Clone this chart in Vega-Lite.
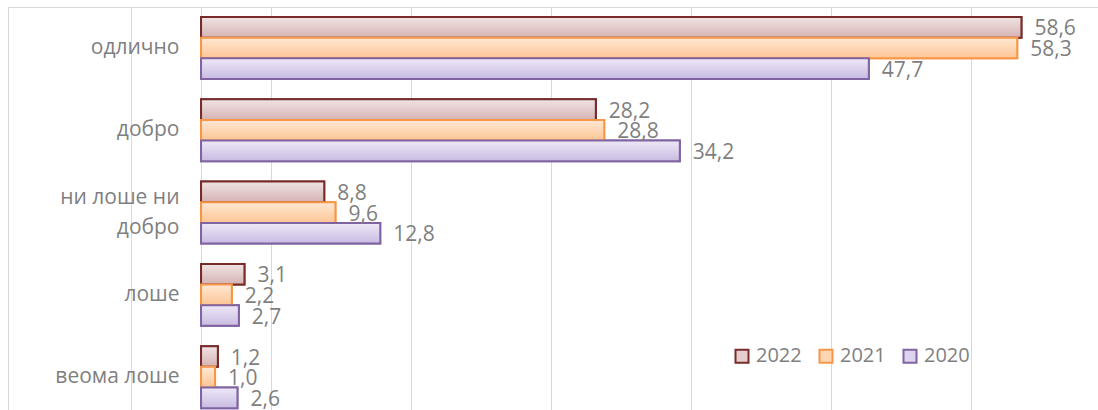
{
  "$schema": "https://vega.github.io/schema/vega-lite/v6.json",
  "autosize": "none",
  "width": 1090,
  "height": 403,
  "padding": {"left": 8, "top": 7, "right": 0, "bottom": 0},
  "background": "white",
  "config": {
    "view": {"stroke": null},
    "font": "Open Sans",
    "locale": {"number": {"decimal": ",", "thousands": ".", "grouping": [3], "currency": ["", ""]}}
  },
  "data": {
    "values": [
      {"category": "одлично", "year": "2022", "value": 58.6},
      {"category": "одлично", "year": "2021", "value": 58.3},
      {"category": "одлично", "year": "2020", "value": 47.7},
      {"category": "добро", "year": "2022", "value": 28.2},
      {"category": "добро", "year": "2021", "value": 28.8},
      {"category": "добро", "year": "2020", "value": 34.2},
      {"category": "ни лоше ни добро", "year": "2022", "value": 8.8},
      {"category": "ни лоше ни добро", "year": "2021", "value": 9.6},
      {"category": "ни лоше ни добро", "year": "2020", "value": 12.8},
      {"category": "лоше", "year": "2022", "value": 3.1},
      {"category": "лоше", "year": "2021", "value": 2.2},
      {"category": "лоше", "year": "2020", "value": 2.7},
      {"category": "веома лоше", "year": "2022", "value": 1.2},
      {"category": "веома лоше", "year": "2021", "value": 1.0},
      {"category": "веома лоше", "year": "2020", "value": 2.6}
    ]
  },
  "encoding": {
    "y": {
      "field": "category",
      "type": "nominal",
      "sort": ["одлично", "добро", "ни лоше ни добро", "лоше", "веома лоше"],
      "scale": {"paddingInner": 0.247, "paddingOuter": 0.072, "align": 0.844},
      "axis": {
        "title": null,
        "ticks": false,
        "domain": true,
        "domainColor": "#d9d9d9",
        "domainWidth": 1,
        "labelPadding": -171,
        "labelAlign": "right",
        "labelFontSize": 21,
        "labelColor": "#7f7f7f",
        "labelFont": "Open Sans",
        "labelLineHeight": 30,
        "labelOverlap": false,
        "labelBound": false,
        "labelOffset": {"condition": {"test": "datum.value == 'ни лоше ни добро'", "value": -15}, "value": 0},
        "labelExpr": "datum.value == 'ни лоше ни добро' ? ['ни лоше ни', 'добро'] : datum.value"
      }
    },
    "yOffset": {
      "field": "year",
      "type": "nominal",
      "sort": ["2022", "2021", "2020"],
      "scale": {"paddingInner": 0, "paddingOuter": 0}
    },
    "x": {
      "field": "value",
      "type": "quantitative",
      "scale": {"domain": [-13.79, 64.07], "nice": false, "zero": false},
      "axis": {
        "orient": "top",
        "title": null,
        "labels": false,
        "ticks": false,
        "domain": true,
        "domainColor": "#d9d9d9",
        "grid": true,
        "gridColor": "#d9d9d9",
        "gridWidth": 1,
        "values": [-5, 0, 5, 15, 25, 35, 45, 55]
      }
    }
  },
  "layer": [
    {
      "mark": {"type": "bar", "strokeWidth": 2},
      "encoding": {
        "x2": {"datum": 0},
        "fill": {
          "field": "year",
          "type": "nominal",
          "scale": {"domain": ["2022", "2021", "2020"], "range": ["#e6cccc", "#fdd7b4", "#ddd3ee"]},
          "legend": {
            "title": null,
            "orient": "none",
            "direction": "horizontal",
            "legendX": 724,
            "legendY": 339,
            "symbolType": "square",
            "symbolSize": 169,
            "symbolStrokeWidth": 2,
            "labelFontSize": 20,
            "labelColor": "#7f7f7f",
            "labelFont": "Open Sans",
            "labelOffset": 4,
            "columnPadding": 13
          }
        },
        "stroke": {
          "field": "year",
          "type": "nominal",
          "scale": {"domain": ["2022", "2021", "2020"], "range": ["#772c2a", "#f79646", "#8064a2"]},
          "legend": {
            "title": null,
            "orient": "none",
            "direction": "horizontal",
            "legendX": 724,
            "legendY": 339,
            "symbolType": "square",
            "symbolSize": 169,
            "symbolStrokeWidth": 2,
            "labelFontSize": 20,
            "labelColor": "#7f7f7f",
            "labelFont": "Open Sans",
            "labelOffset": 4,
            "columnPadding": 13
          }
        }
      }
    },
    {
      "mark": {"type": "bar", "strokeWidth": 2},
      "encoding": {
        "x2": {"datum": 0},
        "fill": {
          "condition": [
            {"test": "datum.year == '2022'", "value": {"gradient": "linear", "x1": 0, "y1": 0, "x2": 0, "y2": 1, "stops": [{"offset": 0, "color": "#f0e4e4"}, {"offset": 1, "color": "#d6b2b2"}]}},
            {"test": "datum.year == '2021'", "value": {"gradient": "linear", "x1": 0, "y1": 0, "x2": 0, "y2": 1, "stops": [{"offset": 0, "color": "#ffe8d4"}, {"offset": 1, "color": "#fcc594"}]}}
          ],
          "value": {"gradient": "linear", "x1": 0, "y1": 0, "x2": 0, "y2": 1, "stops": [{"offset": 0, "color": "#eee8f7"}, {"offset": 1, "color": "#c9bbe2"}]}
        },
        "stroke": {
          "condition": [
            {"test": "datum.year == '2022'", "value": "#772c2a"},
            {"test": "datum.year == '2021'", "value": "#f79646"}
          ],
          "value": "#8064a2"
        }
      }
    },
    {
      "mark": {"type": "text", "align": "left", "baseline": "middle", "dx": 13, "dy": 2, "fontSize": 21, "color": "#7f7f7f", "font": "Open Sans"},
      "encoding": {
        "text": {"field": "value", "type": "quantitative", "format": ".1f"}
      }
    }
  ]
}
